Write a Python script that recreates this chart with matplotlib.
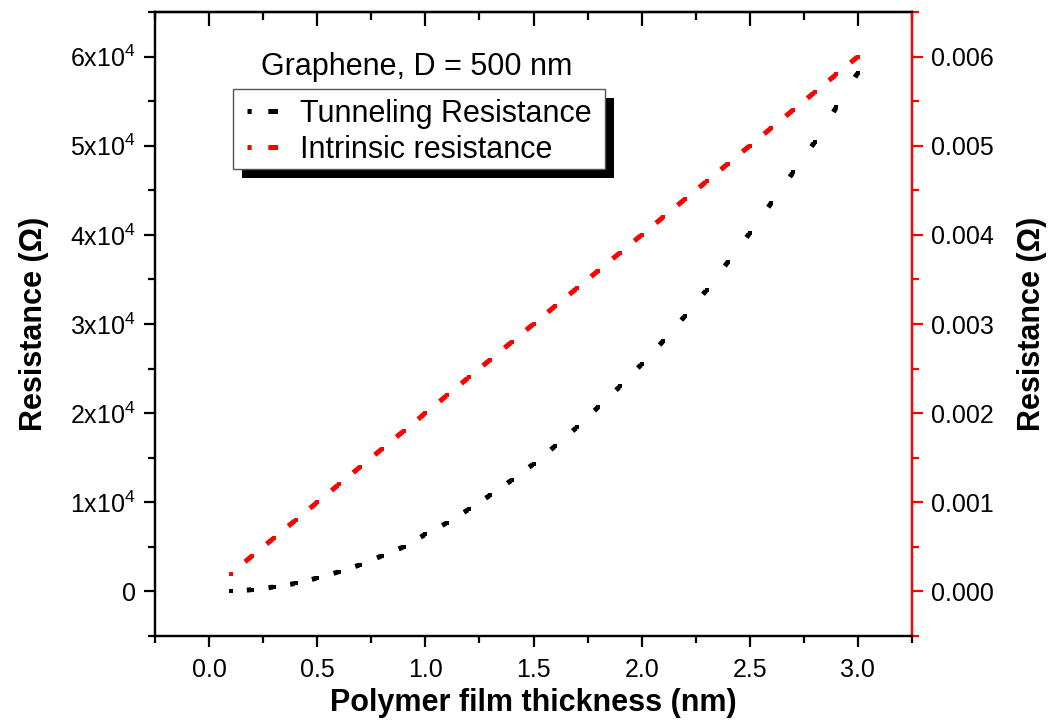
import matplotlib
matplotlib.use("Agg")
import matplotlib.pyplot as plt
from matplotlib.patches import Rectangle
from matplotlib.lines import Line2D
from matplotlib.ticker import FixedLocator, MultipleLocator, FixedFormatter
import numpy as np

plt.rcParams['font.family'] = ['Liberation Sans', 'DejaVu Sans']
plt.rcParams['mathtext.fontset'] = 'custom'
plt.rcParams['mathtext.rm'] = 'Liberation Sans'
plt.rcParams['mathtext.it'] = 'Liberation Sans:italic'
plt.rcParams['mathtext.bf'] = 'Liberation Sans:bold'
plt.rcParams['lines.scale_dashes'] = False

thickness = [0.1, 0.2, 0.3, 0.4, 0.5, 0.6, 0.7, 0.8, 0.9, 1.0,
             1.1, 1.2, 1.3, 1.4, 1.5, 1.6, 1.7, 1.8, 1.9, 2.0,
             2.1, 2.2, 2.3, 2.4, 2.5, 2.6, 2.7, 2.8, 2.9, 3.0]
tunneling = [0, 200, 500, 900, 1500, 2200, 3000, 4000, 5000, 6400,
             7700, 9200, 10800, 12500, 14300, 16300, 18400, 20700, 23000, 25500,
             28100, 30900, 33800, 37000, 40200, 43600, 47000, 50400, 54300, 58200]
intrinsic = [0.0002, 0.0004, 0.0006, 0.0008, 0.0010, 0.0012, 0.0014, 0.0016, 0.0018, 0.0020,
             0.0022, 0.0024, 0.0026, 0.0028, 0.0030, 0.0032, 0.0034, 0.0036, 0.0038, 0.0040,
             0.0042, 0.0044, 0.0046, 0.0048, 0.0050, 0.0052, 0.0054, 0.0056, 0.0058, 0.0060]

left_ticks = [0, 10000, 20000, 30000, 40000, 50000, 60000]
left_labels = ['0', r'$1\mathrm{x}10^{4}$', r'$2\mathrm{x}10^{4}$', r'$3\mathrm{x}10^{4}$',
               r'$4\mathrm{x}10^{4}$', r'$5\mathrm{x}10^{4}$', r'$6\mathrm{x}10^{4}$']
right_ticks = [0.000, 0.001, 0.002, 0.003, 0.004, 0.005, 0.006]
right_labels = ['0.000', '0.001', '0.002', '0.003', '0.004', '0.005', '0.006']
x_ticks = [0.0, 0.5, 1.0, 1.5, 2.0, 2.5, 3.0]
x_labels = ['0.0', '0.5', '1.0', '1.5', '2.0', '2.5', '3.0']

DPI = 100
PX = 72 / DPI  # points per pixel
fig = plt.figure(figsize=(10.58, 7.24), dpi=DPI)
ax = fig.add_axes([155/1058, 1-636/724, (912-155)/1058, (636-12)/724])
ax2 = ax.twinx()

ax.set_xlim(-0.25, 3.25)
ax.set_ylim(-5000, 65000)
ax2.set_ylim(-0.0005, 0.0065)


def dashed_series(a, xs, ys, color, dash_px, lw=3.6, ms_px=5.0):
    """Origin-style dash: a short dash just before each point, plus a square marker."""
    pts = a.transData.transform(np.column_stack([xs, ys]))
    d_pt = dash_px * PX
    g_pt = 1.0 * PX
    big = 1000.0
    for i in range(len(xs) - 1):
        L_pt = np.hypot(*(pts[i + 1] - pts[i])) * PX
        start = max(L_pt - d_pt - g_pt, 0.0)
        offset = (d_pt + big) - start
        a.plot(xs[i:i + 2], ys[i:i + 2], color=color, lw=lw,
               linestyle=(offset, (d_pt, big)), dash_capstyle='butt',
               solid_capstyle='butt')
    a.plot(xs, ys, linestyle='none', marker='s', markersize=ms_px * PX,
           markerfacecolor=color, markeredgewidth=0)


dashed_series(ax, thickness, tunneling, 'black', 4.5)
dashed_series(ax2, thickness, intrinsic, 'red', 8.5)

ax.xaxis.set_major_locator(FixedLocator(x_ticks))
ax.xaxis.set_major_formatter(FixedFormatter(x_labels))
ax.xaxis.set_minor_locator(MultipleLocator(0.25))
ax.yaxis.set_major_locator(FixedLocator(left_ticks))
ax.yaxis.set_major_formatter(FixedFormatter(left_labels))
ax.yaxis.set_minor_locator(MultipleLocator(5000))
ax2.yaxis.set_major_locator(FixedLocator(right_ticks))
ax2.yaxis.set_major_formatter(FixedFormatter(right_labels))
ax2.yaxis.set_minor_locator(MultipleLocator(0.0005))

for a in (ax, ax2):
    for s in a.spines.values():
        s.set_linewidth(1.6)
ax2.spines['right'].set_color('red')

ax.tick_params(axis='x', which='both', direction='out', top=False, labelsize=18, width=1.6, pad=8)
ax.tick_params(axis='x', which='major', length=8)
ax.tick_params(axis='x', which='minor', length=5)
ax.tick_params(axis='y', which='both', direction='out', right=False, labelsize=18, width=1.6, pad=6)
ax.tick_params(axis='y', which='major', length=8)
ax.tick_params(axis='y', which='minor', length=5)
ax2.tick_params(axis='y', which='both', direction='out', colors='red', labelcolor='black',
                labelsize=18, width=1.6, pad=6)
ax2.tick_params(axis='y', which='major', length=8)
ax2.tick_params(axis='y', which='minor', length=5)

# top inward ticks
sec = ax.secondary_xaxis('top')
sec.xaxis.set_major_locator(FixedLocator(x_ticks))
sec.xaxis.set_minor_locator(MultipleLocator(0.25))
sec.tick_params(axis='x', which='both', direction='in', labeltop=False, width=1.6)
sec.tick_params(axis='x', which='major', length=10)
sec.tick_params(axis='x', which='minor', length=6)
sec.spines['top'].set_linewidth(1.6)

ax.set_xlabel('Polymer film thickness (nm)', fontsize=22, fontweight='bold', labelpad=4)
ax.set_ylabel('Resistance (Ω)', fontsize=22, fontweight='bold', labelpad=15)
ax2.set_ylabel('Resistance (Ω)', fontsize=22, fontweight='bold', rotation=90, labelpad=16)

fig.text(417/1058, 1-67/724, 'Graphene, D = 500 nm', fontsize=22, ha='center', va='center')

h1 = Line2D([], [], color='black', lw=3.6, linestyle=(0, (3.0, 12.0, 7.0, 30)),
            dash_capstyle='butt')
h2 = Line2D([], [], color='red', lw=3.6, linestyle=(0, (3.0, 12.0, 7.0, 30)),
            dash_capstyle='butt')
leg = ax2.legend(handles=[h1, h2], labels=['Tunneling Resistance', 'Intrinsic resistance'],
                 loc='upper left',
                 bbox_to_anchor=(247/1058, 1-99/724), bbox_transform=fig.transFigure,
                 fontsize=22, frameon=False, borderaxespad=0,
                 handlelength=1.0, handletextpad=0.72, borderpad=0.0, labelspacing=0.18)
leg.set_zorder(11)

fig.canvas.draw()
bb = leg.get_window_extent()
fx0, fx1 = bb.x0 - 14, bb.x1 + 14
fy0, fy1 = bb.y0 - 4, bb.y1 + 10
shadow = Rectangle((fx0 + 9, fy0 - 9), fx1 - fx0, fy1 - fy0, transform=None,
                   facecolor='black', edgecolor='none', zorder=9)
frame = Rectangle((fx0, fy0), fx1 - fx0, fy1 - fy0, transform=None,
                  facecolor='white', edgecolor='#555555', linewidth=1.0, zorder=10)
ax2.add_artist(shadow)
ax2.add_artist(frame)

fig.savefig('out.png', dpi=DPI)
